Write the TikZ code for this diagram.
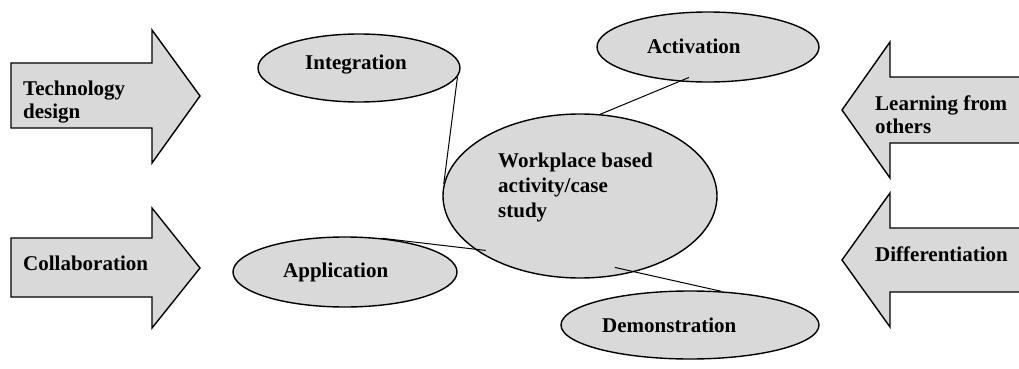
\documentclass[tikz,border=0pt]{standalone}
\usepackage{fontspec}
\setmainfont{Liberation Serif}
\usetikzlibrary{calc,shapes.geometric}
\definecolor{shade}{RGB}{217,217,217}
\begin{document}
\begin{tikzpicture}[x=1pt,y=-1pt,
  bubble/.style={ellipse,draw,fill=shade,line width=1.4pt,inner sep=0pt},
  bigarrow/.style={draw,fill=shade,line width=1.4pt,line join=miter},
  lbl/.style={font=\fontsize{21}{23}\selectfont\bfseries,inner sep=0pt,align=left},
  link/.style={line width=1pt}]
\useasboundingbox (0,0) rectangle (1019,369);
\clip (0,0) rectangle (1019,369);

% block arrows pointing inwards
\draw[bigarrow] (11,63) -- (152,63) -- (152,30) -- (200,96) -- (152,163) -- (152,128) -- (11,128) -- cycle;
\draw[bigarrow] (11,238) -- (152,238) -- (152,208) -- (200,268) -- (152,328) -- (152,297) -- (11,297) -- cycle;
\draw[bigarrow] (1030,77) -- (890,77) -- (890,42) -- (842,110) -- (890,178) -- (890,143) -- (1030,143) -- cycle;
\draw[bigarrow] (1030,228) -- (890,228) -- (890,193) -- (842,260) -- (890,327) -- (890,292) -- (1030,292) -- cycle;

\node[lbl,anchor=north west] (tech) at (23,80.5) {Technology\\design};
\node[lbl,anchor=base west] (collab) at (23,270) {Collaboration};
\node[lbl,anchor=north west] (learn) at (875,95.5) {Learning from\\others};
\node[lbl,anchor=base west] (diff) at (875,261) {Differentiation};

% ellipses
\node[bubble,minimum width=202pt,minimum height=68pt] (integ) at (359,68) {};
\node[bubble,minimum width=222pt,minimum height=70pt] (act) at (708,47) {};
\node[bubble,minimum width=274pt,minimum height=164pt] (wp) at (580,196) {};
\node[bubble,minimum width=224pt,minimum height=70pt] (app) at (345,272) {};
\node[bubble,minimum width=258pt,minimum height=68pt] (dem) at (690,325) {};

\node[lbl,anchor=base west] (integt) at (305,70) {Integration};
\node[lbl,anchor=base west] (actt) at (647,53) {Activation};
\node[lbl,anchor=base west] (appt) at (283,277) {Application};
\node[lbl,anchor=base west] (demt) at (602,332) {Demonstration};
\node[lbl,anchor=north west,font=\fontsize{21}{25}\selectfont\bfseries] (wpt) at (498,152.5) {Workplace based\\activity/case\\study};

% connecting lines
\draw[link] (integ.-5) -- (wp.175);
\draw[link] ($(act.center)!0.87!(act.238)$) -- (wp.76);
\draw[link] (app.42) -- ($(wp.center)!0.95!(wp.210)$);
\draw[link] (dem.47) -- ($(wp.center)!0.9!(wp.-64)$);
\end{tikzpicture}
\end{document}
